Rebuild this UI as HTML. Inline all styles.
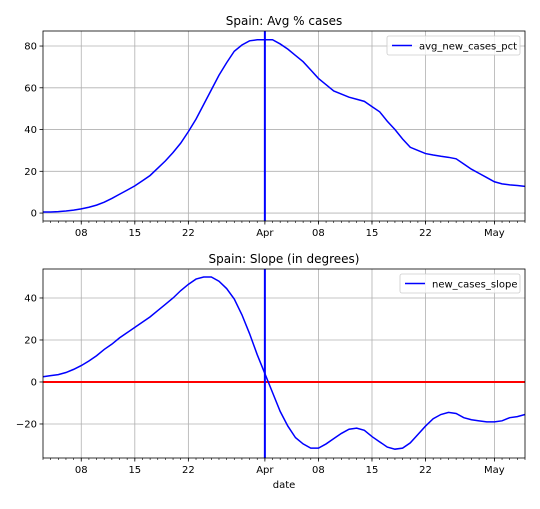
<!DOCTYPE html>
<html><head><meta charset="utf-8"><style>
body{margin:0;background:#fff;font-family:"Liberation Sans","DejaVu Sans",sans-serif}
svg text{font-family:"DejaVu Sans","Liberation Sans",sans-serif}
</style></head><body>
<svg id="c" width="540" height="504" xmlns="http://www.w3.org/2000/svg"></svg>
<script>
const xTickDays = [5, 12, 19, 29, 36, 43, 50, 59];
const xTickLabels = ["08", "15", "22", "Apr", "08", "15", "22", "May"];
const pctValues = [0.5,0.5,0.7,1,1.4,2,2.8,3.8,5.2,7,9,11,13,15.5,18,21.5,25,29,33.5,39,45,52,59,66,72,77.5,80.5,82.5,83,83,83,81,78.5,75.5,72.5,68.5,64.5,61.5,58.5,57,55.5,54.5,53.5,51,48.5,44,40,35.5,31.5,30,28.5,27.8,27.2,26.7,26,23.5,21,19,17,15,14,13.5,13.2,12.8];
const slopeValues = [2.5,3,3.5,4.5,6,7.8,10,12.5,15.5,18,21,23.5,26,28.5,31,34,37,40,43.5,46.5,49,50,50,48,44.5,39.5,32,23,13,4,-5,-14,-21,-26.5,-29.5,-31.5,-31.5,-29.5,-27,-24.5,-22.5,-22,-23,-26,-28.5,-31,-32,-31.5,-29,-25,-21,-17.5,-15.5,-14.5,-15,-17,-18,-18.5,-19,-19,-18.5,-17,-16.5,-15.5];
const pctTicks = [0, 20, 40, 60, 80];
const slopeTicks = [-20, 0, 20, 40];
const markerDay = 29;

const NS = "http://www.w3.org/2000/svg";
const svg = document.getElementById('c');
function mk(tag, attrs, parent){const e=document.createElementNS(NS,tag);for(const k in attrs)e.setAttribute(k,attrs[k]);(parent||svg).appendChild(e);return e;}
const X0=43, X1=525, DMIN=0, DMAX=63;
const xs = d => X0 + (d-DMIN)/(DMAX-DMIN)*(X1-X0);

function panel(cfg){
  const g=mk('g',{});
  
  
  const ys = v => cfg.y1 - (v-cfg.vmin)/(cfg.vmax-cfg.vmin)*(cfg.y1-cfg.y0);
  // grid
  xTickDays.forEach((d,i)=>{
    const l=mk('line',{x1:xs(d),x2:xs(d),y1:cfg.y0,y2:cfg.y1,stroke:'#b0b0b0','stroke-width':0.8},g);
    
    
    mk('line',{x1:xs(d),x2:xs(d),y1:cfg.y1,y2:cfg.y1+3.5,stroke:'#000','stroke-width':0.8},g);
    const t=mk('text',{x:xs(d),y:cfg.y1+15,'font-size':10,'text-anchor':'middle',fill:'#000'},g);
    t.textContent=xTickLabels[i];
    
    
  });
  for(let d=DMIN;d<=DMAX;d++) mk('line',{x1:xs(d),x2:xs(d),y1:cfg.y1,y2:cfg.y1+2,stroke:'#000','stroke-width':0.6},g);
  cfg.ticks.forEach(v=>{
    const l=mk('line',{x1:X0,x2:X1,y1:ys(v),y2:ys(v),stroke:'#b0b0b0','stroke-width':0.8},g);
    
    
    mk('line',{x1:X0-3.5,x2:X0,y1:ys(v),y2:ys(v),stroke:'#000','stroke-width':0.8},g);
    const t=mk('text',{x:X0-6,y:ys(v)+3.5,'font-size':10,'text-anchor':'end',fill:'#000'},g);
    t.textContent=v<0?'\u2212'+(-v):String(v);
    
    
  });
  if(cfg.zeroLine){
    const z=mk('line',{x1:X0,x2:X1,y1:ys(0),y2:ys(0),stroke:'#ff0000','stroke-width':2},g);
    
    
  }
  const pts=cfg.values.map((v,i)=>xs(i).toFixed(2)+','+ys(v).toFixed(2)).join(' ');
  const pl=mk('polyline',{points:pts,fill:'none',stroke:'#0000ff','stroke-width':1.5},g);
  
  
  const vl=mk('line',{x1:xs(markerDay),x2:xs(markerDay),y1:cfg.y0,y2:cfg.y1,stroke:'#0000ff','stroke-width':2},g);
  
  
  const fr=mk('rect',{x:X0,y:cfg.y0,width:X1-X0,height:cfg.y1-cfg.y0,fill:'none',stroke:'#000','stroke-width':0.8},g);
  
  
  const ti=mk('text',{x:(X0+X1)/2,y:cfg.y0-6,'font-size':12,'text-anchor':'middle',fill:'#000'},g);
  ti.textContent=cfg.title;
  
  
  // legend
  const lg=mk('g',{},g);
  
  
  mk('rect',{x:cfg.lx,y:cfg.y0+5,width:X1-5-cfg.lx,height:19,rx:2,fill:'#fff','fill-opacity':0.8,stroke:'#cccccc','stroke-width':0.8},lg);
  mk('line',{x1:cfg.lx+5,x2:cfg.lx+25,y1:cfg.y0+14.5,y2:cfg.y0+14.5,stroke:'#0000ff','stroke-width':1.5},lg);
  const lt=mk('text',{x:cfg.lx+32,y:cfg.y0+18.5,'font-size':10,fill:'#000'},lg);
  lt.textContent=cfg.seriesName;
  
  
}
panel({name:'avg-cases-panel',title:'Spain: Avg % cases',y0:31,y1:221,vmin:-3.8,vmax:87.2,ticks:pctTicks,values:pctValues,seriesName:'avg_new_cases_pct',lx:387,zeroLine:false});
panel({name:'slope-panel',title:'Spain: Slope (in degrees)',y0:269,y1:458,vmin:-36.2,vmax:53.8,ticks:slopeTicks,values:slopeValues,seriesName:'new_cases_slope',lx:400,zeroLine:true});
const xl=mk('text',{x:(X0+X1)/2,y:488,'font-size':10,'text-anchor':'middle',fill:'#000'});
xl.textContent='date';


</script>
</body></html>
